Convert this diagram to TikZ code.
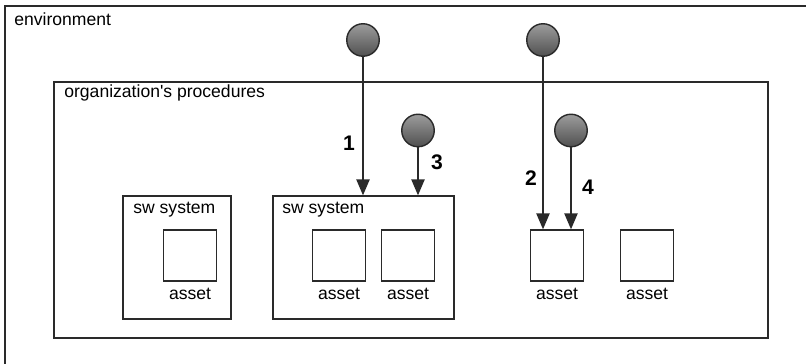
\documentclass[tikz,border=0pt]{standalone}
\usepackage{fontspec}
\setmainfont{Liberation Sans}
\usepackage{tikz}
\usetikzlibrary{calc,positioning,arrows.meta}
\definecolor{linegray}{HTML}{2A2A2A}
\definecolor{agenttop}{HTML}{9C9C9C}
\definecolor{agentbot}{HTML}{505050}
\tikzstyle{frame}     = [draw=linegray, line width=0.8pt, inner sep=0pt]
\tikzstyle{outerbox}  = [frame, line width=1.2pt, minimum width=16.2cm, minimum height=7.24cm]
\tikzstyle{orgbox}    = [frame, minimum width=14.28cm, minimum height=5.12cm]
\tikzstyle{swbox}     = [frame, minimum height=2.46cm]
\tikzstyle{assetbox}  = [frame, minimum width=1.07cm, minimum height=1.02cm]
\tikzstyle{agent}     = [circle, draw=linegray, line width=0.8pt, minimum size=0.65cm, inner sep=0pt, top color=agenttop, bottom color=agentbot]
\tikzstyle{lbl}       = [inner sep=0pt, font=\fontsize{10}{12}\selectfont]
\tikzstyle{numlbl}    = [inner sep=0pt, font=\fontsize{12}{14}\selectfont\bfseries]
\tikzstyle{arrow}     = [draw=linegray, line width=0.85pt, -{Triangle[width=7.5pt,length=9pt]}]

\begin{document}
\begin{tikzpicture}[x=0.02cm,y=-0.02cm]
		\useasboundingbox (0,0) rectangle (806,364);

		% nested boxes
		\node[outerbox] (env) at (410,187) {};
		\node[orgbox] (org) at (411,210) {};
		\node[swbox, minimum width=2.16cm] (s1) at (177,257.5) {};
		\node[swbox, minimum width=3.62cm] (s2) at (363.5,257.5) {};

		\node[lbl, anchor=base west] (envlbl) at (14,26) {environment};
		\node[lbl, anchor=base west] (orglbl) at (64,98) {organization\textquotesingle s procedures};
		\node[lbl, anchor=base west] (s1lbl) at (133,214) {sw system};
		\node[lbl, anchor=base west] (s2lbl) at (282,214) {sw system};

		% assets
		\node[assetbox] (a1) at (190,255.5) {};
		\node[assetbox] (a2) at (339,255.5) {};
		\node[assetbox] (a3) at (408,255.5) {};
		\node[assetbox] (a4) at (557,255.5) {};
		\node[assetbox] (a5) at (647,255.5) {};

		\node[lbl, anchor=base] (a1lbl) at ($(a1.south)+(0,18)$) {asset};
		\node[lbl, anchor=base] (a2lbl) at ($(a2.south)+(0,18)$) {asset};
		\node[lbl, anchor=base] (a3lbl) at ($(a3.south)+(0,18)$) {asset};
		\node[lbl, anchor=base] (a4lbl) at ($(a4.south)+(0,18)$) {asset};
		\node[lbl, anchor=base] (a5lbl) at ($(a5.south)+(0,18)$) {asset};

		% threat agents
		\node[agent] (t1) at (363,40) {};
		\node[agent] (t2) at (543,40) {};
		\node[agent] (t3) at (418,130.5) {};
		\node[agent] (t4) at (571,130.5) {};

		\draw[arrow] (t1) -- (t1 |- s2.north);
		\draw[arrow] (t3) -- (t3 |- s2.north);
		\draw[arrow] (t2) -- (t2 |- a4.north);
		\draw[arrow] (t4) -- (t4 |- a4.north);

		\node[numlbl] (n1) at (349,143) {1};
		\node[numlbl] (n2) at (531,178) {2};
		\node[numlbl] (n3) at (437,162) {3};
		\node[numlbl] (n4) at (588,187) {4};
	\end{tikzpicture}
\end{document}
